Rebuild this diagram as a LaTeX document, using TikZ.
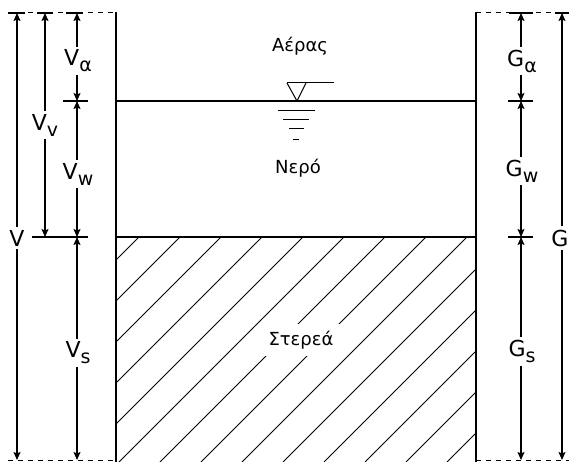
\documentclass[tikz,border=0pt]{standalone}
\usepackage{fontspec}
\setmainfont{DejaVu Sans}
\usetikzlibrary{arrows.meta}
\newcommand\dimlab[2]{#1\raisebox{-6pt}{\fontsize{19}{19}\selectfont #2}}
\begin{document}
\begin{tikzpicture}[x=1pt,y=-1pt,
  dim/.style={line width=1.2pt,-{Stealth[length=8pt,width=7pt,inset=1.5pt]}},
  tick/.style={line width=1.3pt},
  wall/.style={line width=2pt},
  lab/.style={inner xsep=0pt,inner ysep=3pt,font=\fontsize{22}{22}\selectfont},
  body/.style={font=\fontsize{18}{18}\selectfont},
  dashl/.style={line width=1pt,dash pattern=on 5pt off 5pt},
  hatch/.style={line width=0.9pt}]
\useasboundingbox (0,0) rectangle (569,462);
% dashed reference lines
\draw[dashl] (8,13) -- (116,13);
\draw[dashl] (476,13) -- (569,13);
\draw[dashl] (8,460) -- (116,460);
\draw[dashl] (476,460) -- (569,460);
% hatching of solids
\begin{scope}
  \clip (116,237) rectangle (476,462);
  \foreach \k in {0,...,13}{
    \pgfmathsetmacro\c{376+41*\k}
    \draw[hatch] (\c-237,237) -- (\c-462,462);
  }
\end{scope}
% container
\draw[wall] (116,12) -- (116,462);
\draw[wall] (476,12) -- (476,462);
\draw[line width=1.2pt] (116,101) -- (476,101);
\draw[line width=1.4pt] (116,237) -- (476,237);
% water symbol
\draw[line width=1pt] (287,83) -- (334,83);
\draw[line width=1pt] (287,83) -- (297,101) -- (306,83);
\draw[line width=1pt] (278,110.7) -- (315,110.7);
\draw[line width=1pt] (283,119.3) -- (309,119.3);
\draw[line width=1pt] (289,128.3) -- (304,128.3);
\draw[line width=1pt] (293,139.3) -- (299,139.3);
% phase labels
\node[body] (air) at (300,46) {Αέρας};
\node[body] (wat) at (298,168) {Νερό};
\node[body,fill=white,inner xsep=8pt,inner ysep=7pt] (sol) at (301,340) {Στερεά};
% ticks
\coordinate (tV) at (17,13);   \draw[tick] (8,13) -- (25,13);
\coordinate (tVv) at (45,13);  \draw[tick] (37,13) -- (53,13);
\coordinate (tVa) at (77,13);  \draw[tick] (66,13) -- (83,13);
\coordinate (mVa) at (77,101); \draw[tick] (63,101) -- (88,101);
\coordinate (mVv) at (45,237); \coordinate (mVw) at (77,237);
\draw[tick] (32,237) -- (88,237);
\coordinate (bV) at (17,460);  \coordinate (bVs) at (77,460);
\coordinate (tGa) at (521,13); \draw[tick] (509,13) -- (533,13);
\coordinate (tG) at (562,13);  \draw[tick] (555,13) -- (569,13);
\coordinate (mGa) at (521,101); \draw[tick] (508,101) -- (533,101);
\coordinate (mGw) at (521,237); \draw[tick] (508,237) -- (533,237);
\coordinate (bGs) at (521,460); \coordinate (bG) at (562,460);
% left dimension labels and arrows
\node[lab] (V) at (17,238) {V};
\draw[dim] (V.north) -- (tV);
\draw[dim] (V.south) -- (bV);
\node[lab] (Vv) at (45,125) {\dimlab{V}{v}};
\draw[dim] (Vv.north -| tVv) -- (tVv);
\draw[dim] (Vv.south -| tVv) -- (mVv);
\node[lab] (Va) at (78,61) {\dimlab{V}{α}};
\draw[dim] (Va.north -| tVa) -- (tVa);
\draw[dim] (Va.south -| tVa) -- (mVa);
\node[lab] (Vw) at (78,174) {\dimlab{V}{w}};
\draw[dim] (Vw.north -| mVa) -- (mVa);
\draw[dim] (Vw.south -| mVa) -- (mVw);
\node[lab] (Vs) at (78,353) {\dimlab{V}{s}};
\draw[dim] (Vs.north -| mVw) -- (mVw);
\draw[dim] (Vs.south -| mVw) -- (bVs);
% right dimension labels and arrows
\node[lab] (Ga) at (522,61) {\dimlab{G}{α}};
\draw[dim] (Ga.north -| tGa) -- (tGa);
\draw[dim] (Ga.south -| tGa) -- (mGa);
\node[lab] (Gw) at (522,171) {\dimlab{G}{w}};
\draw[dim] (Gw.north -| mGa) -- (mGa);
\draw[dim] (Gw.south -| mGa) -- (mGw);
\node[lab] (Gs) at (522,351) {\dimlab{G}{s}};
\draw[dim] (Gs.north -| mGw) -- (mGw);
\draw[dim] (Gs.south -| mGw) -- (bGs);
\node[lab] (G) at (560,238) {G};
\draw[dim] (G.north -| tG) -- (tG);
\draw[dim] (G.south -| tG) -- (bG);
\end{tikzpicture}
\end{document}
